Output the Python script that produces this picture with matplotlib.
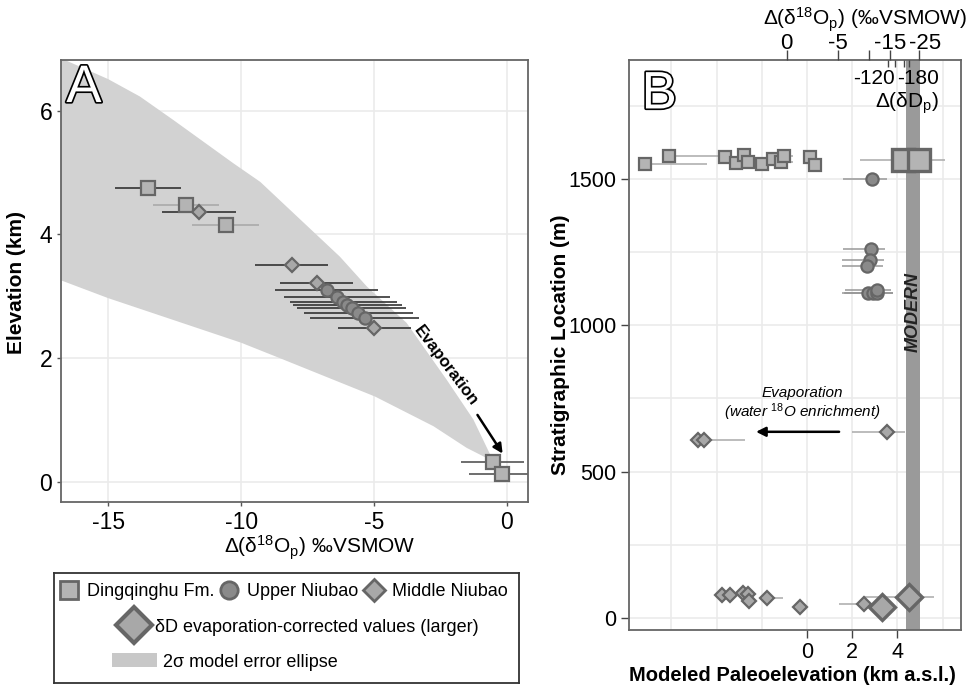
import matplotlib
matplotlib.use('Agg')
import matplotlib.pyplot as plt
import matplotlib.patheffects as pe
import matplotlib.transforms as mtrans
from matplotlib.lines import Line2D
from matplotlib.patches import Patch

plt.rcParams['font.family'] = ['Liberation Sans', 'DejaVu Sans']
plt.rcParams['mathtext.fontset'] = 'custom'
plt.rcParams['mathtext.rm'] = 'Liberation Sans'
plt.rcParams['mathtext.it'] = 'Liberation Sans:italic'
plt.rcParams['mathtext.bf'] = 'Liberation Sans:bold'
plt.rcParams['axes.unicode_minus'] = False

# ---------------- Panel A data ----------------
sqA_x = [-13.49, -12.09, -10.58, -0.53, -0.19]
sqA_y = [4.75, 4.48, 4.15, 0.32, 0.12]
sqA_err = [1.24, 1.24, 1.25, 1.19, 1.22]
sqA_errcol = ['#333333', '#aaaaaa', '#aaaaaa', '#555555', '#555555']

ciA_x = [-6.78, -6.38, -6.15, -6.00, -5.84, -5.59, -5.34]
ciA_y = [3.11, 2.99, 2.90, 2.86, 2.81, 2.73, 2.65]
ciA_err = [1.95, 2.0, 2.0, 2.05, 2.05, 2.05, 2.05]

diA_x = [-11.59, -8.10, -7.15, -4.98]
diA_y = [4.36, 3.51, 3.21, 2.49]
diA_err = [1.40, 1.38, 1.38, 1.38]

ell_x = [-16.79, -15.0, -13.81, -12.55, -10.29, -9.28, -6.28, -5.27, -3.77, -2.26, -1.26, -0.50,
         -1.51, -2.76, -4.96, -8.54, -10.0, -15.0, -16.79]
ell_y = [6.85, 6.51, 6.23, 5.85, 5.15, 4.85, 3.64, 3.16, 2.57, 1.65, 1.01, 0.33,
         0.55, 0.90, 1.38, 2.00, 2.25, 2.97, 3.26]

# ---------------- Panel B data ----------------
sqB_x = [-7.17, -6.11, -3.63, -3.15, -2.79, -2.60, -1.99, -1.49, -1.15, -1.02, 0.13, 0.35]
sqB_y = [1550, 1579, 1576, 1553, 1582, 1558, 1552, 1568, 1557, 1579, 1576, 1549]
sqB_lo = [0.3, 0.3, 0, 0, 0, 0, 0, 0, 0.2, 0.2, 0, 0]
sqB_hi = [2.73, 2.48, 0, 0, 0, 0, 0, 0, 0.55, 0.42, 0, 0]

sqB_big_x = [4.23, 4.96]
sqB_big_y = [1563, 1563]
sqB_big_lo = [1.88, 0.3]
sqB_big_hi = [1.88, 0.3]

ciB_x = [2.89, 2.82, 2.79, 2.64, 2.71, 2.93, 3.11, 3.11]
ciB_y = [1499, 1259, 1223, 1203, 1109, 1109, 1109, 1121]
ciB_lo = [1.28, 1.24, 1.25, 1.10, 1.17, 1.30, 1.45, 1.45]
ciB_hi = [0.64, 0.63, 0.60, 0.70, 1.10, 0.85, 0.70, 0.60]

diB_x = [-4.81, -4.56, 3.53, -3.77, -3.41, -2.82, -2.62, -2.55, -1.78, -0.31, 2.52]
diB_y = [608, 608, 636, 80, 80, 85, 83, 59, 67, 39, 48]
diB_lo = [0, 0.3, 1.55, 0, 0, 0, 0, 0, 0.3, 0, 1.09]
diB_hi = [0, 1.82, 0.81, 0, 0, 0, 0, 0, 0.73, 0, 0.5]

diB_big_x = [3.33, 4.50]
diB_big_y = [39, 71]
diB_big_lo = [0, 2.01]
diB_big_hi = [0, 1.12]

modern_band = (4.36, 5.00)

top_ticks_km = [-0.90, 1.36, 2.73, 3.67, 4.97]
top_tick_labels = ['0', '-5', '', '-15', '-25']
dD_ticks_km = [3.60, 3.89, 4.29, 4.53]
dD_label_km = [2.98, 4.93]
dD_labels = ['-120', '-180']

# ---------------- styles ----------------
SQ_FILL = '#b4b4b4'
CI_FILL = '#8a8a8a'
DI_FILL = '#a8a8a8'
EDGE = '#666666'
GRID = '#ebebeb'
SPINE = '#666666'

fig = plt.figure(figsize=(9.74, 6.89), dpi=100)

# ================= Panel A =================
axA = fig.add_axes([60.7/974, 1-502.3/689, 467.6/974, 442.3/689])
axA.set_xlim(-16.79, 0.81)
axA.set_ylim(-0.33, 6.82)
axA.set_xticks([-15, -10, -5, 0])
axA.set_yticks([0, 2, 4, 6])
axA.grid(True, color=GRID, lw=1.2, zorder=0)
axA.set_axisbelow(True)
for s in axA.spines.values():
    s.set_color(SPINE); s.set_linewidth(1.3)
axA.tick_params(labelsize=16.5, length=3, width=1, color='#555555', pad=3)

axA.fill(ell_x, ell_y, color='#d2d2d2', lw=0, zorder=1)

for x, y, e, c in zip(sqA_x, sqA_y, sqA_err, sqA_errcol):
    axA.errorbar([x], [y], xerr=[e], fmt='none', ecolor=c, elinewidth=1.2, capsize=0, zorder=2)
for x, y, e in zip(diA_x, diA_y, diA_err):
    axA.errorbar([x], [y], xerr=[e], fmt='none', ecolor='#333333', elinewidth=1.2, capsize=0, zorder=2)
axA.errorbar(ciA_x, ciA_y, xerr=ciA_err, fmt='none', ecolor='#333333', elinewidth=1.2, capsize=0, zorder=2)

axA.plot(sqA_x, sqA_y, ls='none', marker='s', ms=10, mfc=SQ_FILL, mec=EDGE, mew=1.6, zorder=3)
axA.plot(diA_x, diA_y, ls='none', marker='D', ms=7.2, mfc=DI_FILL, mec=EDGE, mew=1.6, zorder=3)
axA.plot(ciA_x, ciA_y, ls='none', marker='o', ms=8.8, mfc=CI_FILL, mec=EDGE, mew=1.6, zorder=3)

axA.annotate('', xy=(-0.10, 0.42), xytext=(-1.16, 1.12),
             arrowprops=dict(arrowstyle='-|>', color='black', lw=1.8, mutation_scale=14), zorder=4)
axA.text(-2.29, 1.87, 'Evaporation', rotation=-53, fontsize=12, fontweight='bold',
         ha='center', va='center', rotation_mode='anchor', zorder=4)

axA.text(0.012, 0.905, 'A', transform=axA.transAxes, fontsize=38, color='white',
         ha='left', va='baseline', zorder=5,
         path_effects=[pe.withStroke(linewidth=2.4, foreground='black')])

axA.set_xlabel('Δ(δ$^{18}$O$_\\mathrm{p}$) ‰VSMOW', fontsize=15)
axA.xaxis.label.set_va('center')
axA.xaxis.set_label_coords(0.5545, -0.103)
axA.set_ylabel('Elevation (km)', fontsize=15, fontweight='bold')
axA.yaxis.label.set_va('center')
axA.yaxis.set_label_coords(-0.0935, 0.497)

# ================= Legend =================
axL = fig.add_axes([54/974, 1-682.7/689, 465/974, 110/689])
axL.set_xticks([]); axL.set_yticks([])
for s in axL.spines.values():
    s.set_color('#333333'); s.set_linewidth(1.3)

row1 = [Line2D([], [], ls='none', marker='s', ms=12.5, mfc=SQ_FILL, mec=EDGE, mew=2, label='Dingqinghu Fm.'),
        Line2D([], [], ls='none', marker='o', ms=12.5, mfc=CI_FILL, mec=EDGE, mew=2, label='Upper Niubao'),
        Line2D([], [], ls='none', marker='D', ms=11.5, mfc=DI_FILL, mec=EDGE, mew=2, label='Middle Niubao')]
leg1 = axL.legend(handles=row1, loc='center left', bbox_to_anchor=(0.012, 0.827), ncol=3, frameon=False,
                  fontsize=13, handlelength=1.0, handletextpad=0.5, columnspacing=0.35,
                  borderpad=0, borderaxespad=0)
axL.add_artist(leg1)
row2 = [Line2D([], [], ls='none', marker='D', ms=18.5, mfc=DI_FILL, mec=EDGE, mew=3,
               label='δD evaporation-corrected values (larger)')]
leg2 = axL.legend(handles=row2, loc='center left', bbox_to_anchor=(0.142, 0.504), frameon=False,
                  fontsize=13, handlelength=1.6, handletextpad=0.35, borderpad=0, borderaxespad=0)
axL.add_artist(leg2)
row3 = [Patch(facecolor='#c8c8c8', edgecolor='none', label='2σ model error ellipse')]
axL.legend(handles=row3, loc='center left', bbox_to_anchor=(0.124, 0.19), frameon=False,
           fontsize=13, handlelength=2.5, handleheight=0.85, handletextpad=0.37,
           borderpad=0, borderaxespad=0)

# ================= Panel B =================
axB = fig.add_axes([629/974, 1-630/689, 332/974, 570/689])
axB.set_xlim(-7.876, 6.81)
axB.set_ylim(-41, 1906)
axB.set_xticks([0, 2, 4])
axB.set_xticks([-6, -4, -2, 6], minor=True)
axB.set_yticks([0, 500, 1000, 1500])
axB.set_yticks([250, 750, 1250, 1750], minor=True)
axB.grid(True, which='both', color=GRID, lw=1.2, zorder=0)
axB.set_axisbelow(True)
for s in axB.spines.values():
    s.set_color(SPINE); s.set_linewidth(1.3)
axB.tick_params(which='major', labelsize=15.5, length=6, width=1, color='#444444', pad=3)
axB.tick_params(which='minor', length=0)

axB.axvspan(*modern_band, color='#9a9a9a', lw=0, zorder=1)
axB.text(sum(modern_band)/2, 1046, 'MODERN', rotation=90, fontsize=13, fontweight='bold',
         fontstyle='italic', ha='center', va='center', color='#222222', zorder=2)

ecB = '#aaaaaa'
axB.errorbar(sqB_x, sqB_y, xerr=[sqB_lo, sqB_hi], fmt='none', ecolor=ecB, elinewidth=1.1, capsize=0, zorder=2)
axB.errorbar(sqB_big_x, sqB_big_y, xerr=[sqB_big_lo, sqB_big_hi], fmt='none', ecolor=ecB, elinewidth=1.1, capsize=0, zorder=2)
axB.errorbar(ciB_x, ciB_y, xerr=[ciB_lo, ciB_hi], fmt='none', ecolor='#999999', elinewidth=1.1, capsize=0, zorder=2)
axB.errorbar(diB_x, diB_y, xerr=[diB_lo, diB_hi], fmt='none', ecolor=ecB, elinewidth=1.1, capsize=0, zorder=2)
axB.errorbar(diB_big_x, diB_big_y, xerr=[diB_big_lo, diB_big_hi], fmt='none', ecolor=ecB, elinewidth=1.1, capsize=0, zorder=2)

axB.plot(sqB_x, sqB_y, ls='none', marker='s', ms=8.0, mfc=SQ_FILL, mec=EDGE, mew=1.6, zorder=3)
axB.plot(sqB_big_x, sqB_big_y, ls='none', marker='s', ms=15.5, mfc=SQ_FILL, mec=EDGE, mew=2.4, zorder=3)
axB.plot(ciB_x, ciB_y, ls='none', marker='o', ms=8.8, mfc=CI_FILL, mec=EDGE, mew=1.6, zorder=3)
axB.plot(diB_x, diB_y, ls='none', marker='D', ms=7.0, mfc=DI_FILL, mec=EDGE, mew=1.6, zorder=3)
axB.plot(diB_big_x, diB_big_y, ls='none', marker='D', ms=12.8, mfc=DI_FILL, mec=EDGE, mew=2.4, zorder=3)

axB.annotate('', xy=(-2.38, 636), xytext=(1.54, 636),
             arrowprops=dict(arrowstyle='-|>', color='black', lw=1.8, mutation_scale=14), zorder=4)
axB.text(-0.23, 768, 'Evaporation', fontsize=11, fontstyle='italic', ha='center', va='center')
axB.text(-0.19, 702, '(water $^{18}$O enrichment)', fontsize=11, fontstyle='italic', ha='center', va='center')

axB.text(0.038, 0.915, 'B', transform=axB.transAxes, fontsize=38, color='white',
         ha='left', va='baseline', zorder=5,
         path_effects=[pe.withStroke(linewidth=2.4, foreground='black')])

axB.set_xlabel('Modeled Paleoelevation (km a.s.l.)', fontsize=14.5, fontweight='bold')
axB.xaxis.label.set_va('center')
axB.xaxis.set_label_coords(0.493, -0.0807)
axB.set_ylabel('Stratigraphic Location (m)', fontsize=15, fontweight='bold')
axB.yaxis.label.set_va('center')
axB.yaxis.set_label_coords(-0.207, 0.5)

# top secondary axis
axT = axB.twiny()
axT.set_xlim(axB.get_xlim())
axT.set_xticks(top_ticks_km)
axT.set_xticklabels(top_tick_labels)
axT.set_xticks(dD_ticks_km, minor=True)
axT.tick_params(which='major', direction='out', length=7, width=1, color='#444444', labelsize=16, pad=-2.5)
axT.tick_params(which='minor', direction='in', length=5, width=1, color='#444444')
for s in axT.spines.values():
    s.set_visible(False)
# nudge the crowded last label to the right, as in the original
last_lab = axT.get_xticklabels()[-1]
last_lab.set_transform(last_lab.get_transform() +
                       mtrans.ScaledTranslation(6/100, 0, fig.dpi_scale_trans))
axT.set_xlabel('Δ(δ$^{18}$O$_\\mathrm{p}$) (‰VSMOW)', fontsize=15)
axT.xaxis.label.set_va('center')
axT.xaxis.set_label_coords(0.712, 1.07)
for xk, lab in zip(dD_label_km, dD_labels):
    axB.text(xk, 0.968, lab, transform=axB.get_xaxis_transform(), fontsize=15,
             ha='center', va='center', zorder=5)
axB.text(4.41, 0.925, 'Δ(δD$_\\mathrm{p}$)', transform=axB.get_xaxis_transform(), fontsize=15,
         ha='center', va='center', zorder=5)

fig.savefig('out.png', dpi=100)
